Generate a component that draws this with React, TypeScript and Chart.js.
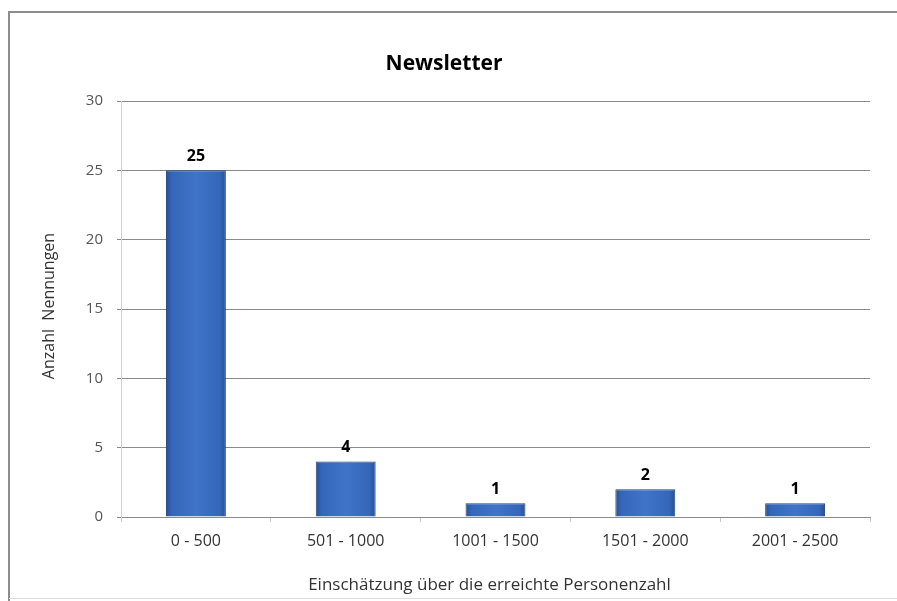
import React, { useEffect, useRef } from "react";
import { Chart, registerables } from "chart.js";

Chart.register(...registerables);

const categories = ["0 - 500", "501 - 1000", "1001 - 1500", "1501 - 2000", "2001 - 2500"];
const values = [25, 4, 1, 2, 1];
const yTicks = [0, 5, 10, 15, 20, 25, 30];
const titleText = "Newsletter";
const yTitleText = "Anzahl  Nennungen";
const xTitleText = "Einschätzung über die erreichte Personenzahl";

const FONT = "'Open Sans', Lato, sans-serif";

export default function App() {
  const ref = useRef<HTMLCanvasElement | null>(null);

  useEffect(() => {
    const canvas = ref.current;
    if (!canvas) return;

    const framePlugin = {
      id: "frame",
      beforeDraw(chart: any) {
        const c = chart.ctx;
        c.save();
        c.fillStyle = "#ffffff";
        c.fillRect(0, 0, chart.width, chart.height);
        c.strokeStyle = "#8c8c8c";
        c.lineWidth = 2;
        c.beginPath();
        c.moveTo(9, chart.height);
        c.lineTo(9, 12);
        c.lineTo(chart.width, 12);
        c.stroke();
        c.strokeStyle = "#dddddd";
        c.lineWidth = 1;
        c.beginPath();
        c.moveTo(9, 598.5);
        c.lineTo(chart.width, 598.5);
        c.stroke();
        c.restore();
      },
    };

    const barStylePlugin = {
      id: "barStyle",
      afterDatasetsDraw(chart: any) {
        const c = chart.ctx;
        const meta = chart.getDatasetMeta(0);
        c.save();
        c.fillStyle = "#000";
        c.font = `bold 16px ${FONT}`;
        c.textAlign = "center";
        c.textBaseline = "bottom";
        meta.data.forEach((el: any, i: number) => {
          c.fillText(String(values[i]), el.x, el.y - 6);
        });
        c.restore();
      },
    };

    const textPlugin = {
      id: "texts",
      afterDraw(chart: any) {
        const c = chart.ctx;
        const area = chart.chartArea;
        c.save();
        c.fillStyle = "#000";
        c.textAlign = "center";
        c.textBaseline = "middle";
        c.font = `bold 21px ${FONT}`;
        c.fillText(titleText, 444, 64);
        c.fillStyle = "#333";
        c.font = `17px ${FONT}`;
        c.fillText(xTitleText, (area.left + area.right) / 2 - 6, 585);
        c.translate(49, 306);
        c.rotate(-Math.PI / 2);
        c.font = `16px ${FONT}`;
        c.fillText(yTitleText, 0, 0);
        c.restore();
      },
    };

    const chart = new Chart(canvas, {
      type: "bar",
      data: {
        labels: categories,
        datasets: [
          {
            data: values,
            backgroundColor: (context: any) => {
              const el = context.chart.getDatasetMeta(0).data[context.dataIndex];
              if (!el || el.width == null || !isFinite(el.x)) return "#3a6bc0";
              const g = context.chart.ctx.createLinearGradient(el.x - el.width / 2, 0, el.x + el.width / 2, 0);
              g.addColorStop(0, "#27508f");
              g.addColorStop(0.1, "#3467b9");
              g.addColorStop(0.5, "#3f74c9");
              g.addColorStop(0.9, "#3467b9");
              g.addColorStop(1, "#27508f");
              return g;
            },
            borderColor: "#22447f",
            borderWidth: 1,
            barPercentage: 0.4,
            categoryPercentage: 1,
          },
        ],
      },
      options: {
        responsive: false,
        animation: false,
        layout: { padding: { left: 61, right: 27, top: 101, bottom: 44 } },
        plugins: {
          legend: { display: false },
          title: { display: false },
          tooltip: { enabled: false },
        },
        scales: {
          x: {
            afterFit(scale: any) {
              scale.height = 40;
            },
            grid: {
              offset: true,
              drawOnChartArea: false,
              drawTicks: true,
              tickLength: 5,
              color: "#c8c8c8",
            },
            border: { color: "#8a8a8a", width: 1 },
            ticks: {
              color: "#333",
              font: { family: FONT, size: 16 },
              padding: 10,
              maxRotation: 0,
            },
          },
          y: {
            min: 0,
            max: 30,
            afterFit(scale: any) {
              scale.width = 60;
            },
            afterBuildTicks(scale: any) {
              scale.ticks = yTicks.map((v) => ({ value: v }));
            },
            grid: {
              color: "#8a8a8a",
              lineWidth: 1,
              drawTicks: true,
              tickLength: 4,
            },
            border: { color: "#d0d0d0", width: 1 },
            ticks: {
              color: "#555",
              font: { family: FONT, size: 15 },
              padding: 14,
            },
          },
        },
      },
      plugins: [framePlugin, barStylePlugin, textPlugin],
    } as any);
    chart.update();

    return () => chart.destroy();
  }, []);

  return (
    <div style={{ position: "fixed", left: 0, top: 0, width: 897, height: 601 }}>
      <canvas ref={ref} width={897} height={601} style={{ display: "block" }} />
    </div>
  );
}
